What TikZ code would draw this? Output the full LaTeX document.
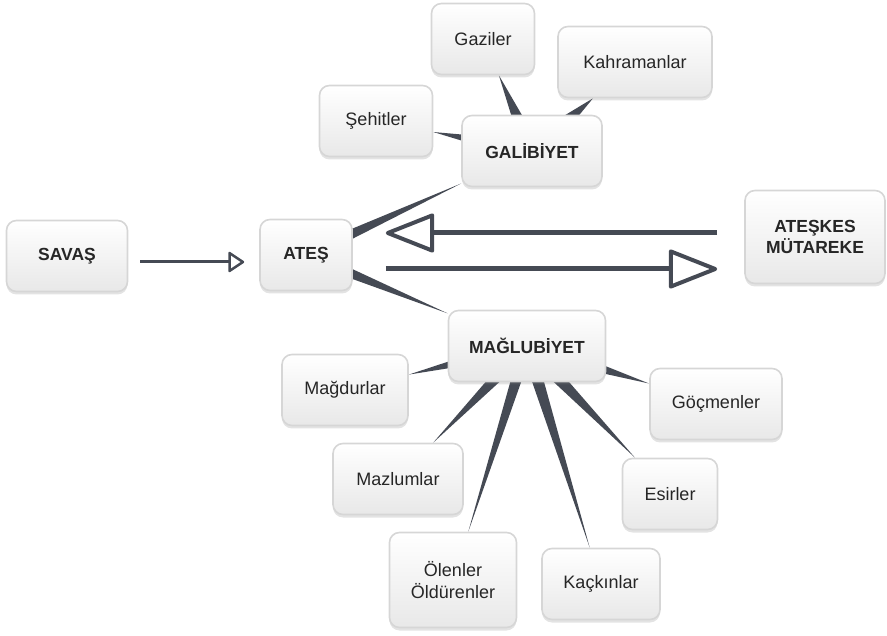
\documentclass[tikz,border=0pt]{standalone}
\usepackage{fontspec}
\setmainfont{Liberation Sans}
\usetikzlibrary{positioning}
\usetikzlibrary{calc,arrows.meta,shadows,backgrounds}
\definecolor{spokeGray}{HTML}{454A54}
\definecolor{boxLine}{HTML}{D6D6D6}
\tikzset{
    box/.style={
		draw=boxLine, line width=1.6pt, rounded corners=10pt,
		top color=white, bottom color=black!9,
		drop shadow={shadow xshift=0pt, shadow yshift=-3pt, opacity=0.22},
		minimum height=71pt, align=center, text=black!85,
		font=\fontsize{18}{22}\selectfont
	},
    hub/.style={box, font=\fontsize{17.5}{21}\selectfont\bfseries},
    spokeFill/.style={fill=spokeGray},
    thinArrow/.style={draw=spokeGray, line width=3pt, -{Triangle[open, round, length=17pt, width=22pt, line width=2.5pt]}},
    bigArrow/.style={draw=spokeGray, line width=5pt, -{Triangle[open, round, length=52pt, width=40pt, line width=4pt]}}
}
% tapered connector: wide at the hub, pointed at the leaf
\newcommand{\spoke}[3][5]{%
	\path (#2) -- (#3) coordinate[pos=0] (sA) coordinate[pos=1] (sB);
	\coordinate (sC) at ($(sA)!-10pt!(sB)$);
	\fill[spokeFill] ($(sC)!#1pt!90:(sB)$) -- (sB) -- ($(sC)!#1pt!-90:(sB)$) -- cycle;
}

\begin{document}
\begin{tikzpicture}[x=1pt, y=-1pt]
	\useasboundingbox (0,0) rectangle (887,636);
	\node[hub, minimum width=121pt] (savas) at (67,256) {SAVAŞ};
	\node[hub, minimum width=92pt] (ates) at (306,255) {ATEŞ};
	\node[hub, minimum width=140pt] (galibiyet) at (532,151) {GALİBİYET};
	\node[box, minimum width=103pt] (gaziler) at (483,39) {Gaziler};
	\node[box, minimum width=154pt] (kahraman) at (635,62) {Kahramanlar};
	\node[box, minimum width=113pt] (sehitler) at (376,121) {Şehitler};
	\node[hub, minimum width=140pt, minimum height=93pt] (atesk) at (815,237) {ATEŞKES\\MÜTAREKE};
	\node[hub, minimum width=157pt] (maglubiyet) at (527,346) {MAĞLUBİYET};
	\node[box, minimum width=126pt] (magdur) at (345,390) {Mağdurlar};
	\node[box, minimum width=130pt] (mazlum) at (398,479) {Mazlumlar};
	\node[box, minimum width=127pt, minimum height=95pt] (olenler) at (453,580) {Ölenler\\Öldürenler};
	\node[box, minimum width=118pt] (kackin) at (601,584) {Kaçkınlar};
	\node[box, minimum width=95pt] (esir) at (670,494) {Esirler};
	\node[box, minimum width=132pt] (gocmen) at (716,404) {Göçmenler};

	\draw[thinArrow, shorten <=12pt, shorten >=15pt] ([yshift=-6pt]savas.east) -- ([yshift=-6pt]savas.east -| ates.west);
	\draw[bigArrow, shorten <=27pt, shorten >=33pt] ([yshift=4pt]atesk.west) -- ([yshift=4pt]atesk.west -| ates.east);
	\draw[bigArrow, shorten <=33pt, shorten >=27pt] ([yshift=-32pt]atesk.west -| ates.east) -- ([yshift=-32pt]atesk.west);

	\begin{pgfonlayer}{background}
		\spoke{ates}{galibiyet}
		\spoke{ates}{maglubiyet}
		\spoke[6]{galibiyet}{gaziler}
		\spoke[6]{galibiyet}{kahraman}
		\spoke[4]{galibiyet}{sehitler}
		\spoke[4]{maglubiyet}{magdur}
		\spoke[5.5]{maglubiyet}{mazlum}
		\spoke[5.5]{maglubiyet}{olenler}
		\spoke[6]{maglubiyet}{kackin}
		\spoke[6]{maglubiyet}{esir}
		\spoke[4.5]{maglubiyet}{gocmen}
	\end{pgfonlayer}
\end{tikzpicture}
\end{document}
